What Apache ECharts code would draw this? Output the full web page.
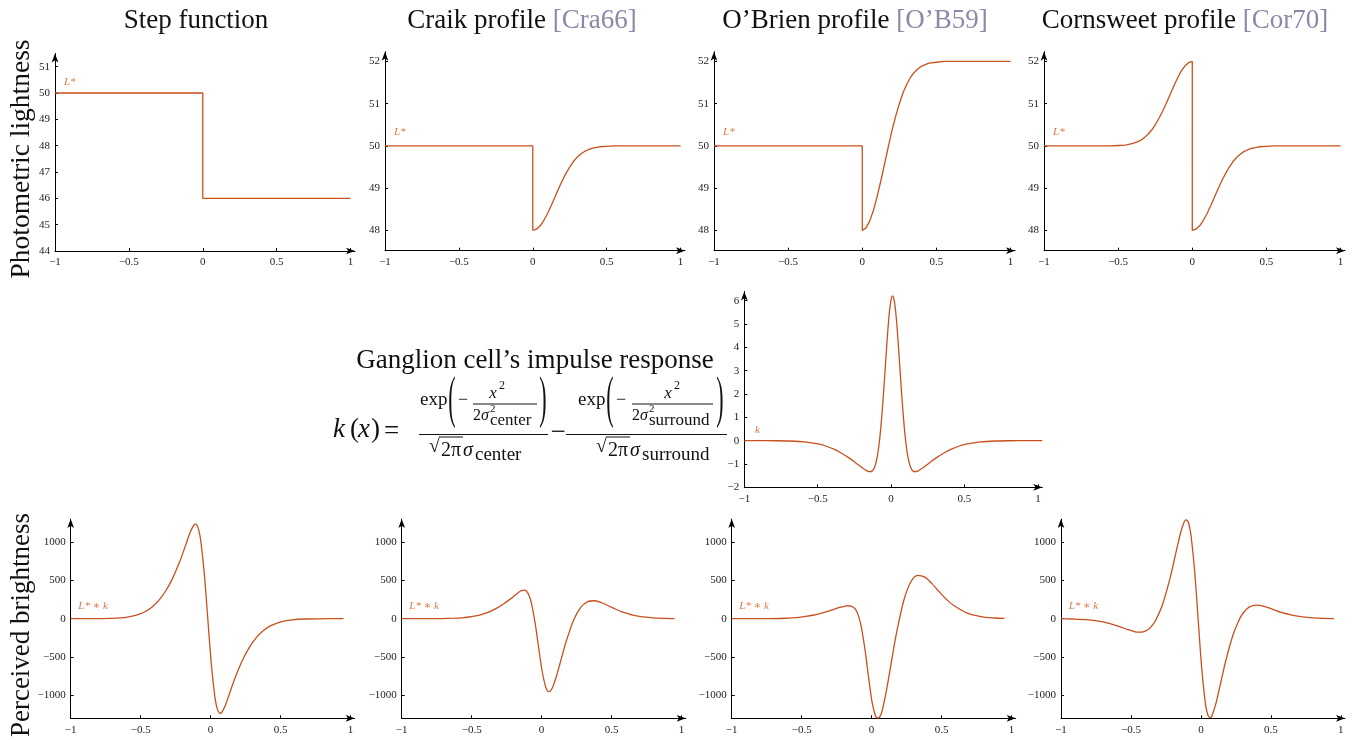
<!DOCTYPE html>
<html><head><meta charset="utf-8">
<script src="https://cdn.jsdelivr.net/npm/echarts@6/dist/echarts.min.js"></script>
<style>html,body{margin:0;padding:0;background:#fff}#c{width:1354px;height:740px}</style>
</head><body><div id="c"></div>
<script>
// ---------------- data ----------------
const xTicks = [-1, -0.5, 0, 0.5, 1];
const yTicksStep = [44, 45, 46, 47, 48, 49, 50, 51];
const yTicksProfile = [48, 49, 50, 51, 52];
const yTicksKernel = [-2, -1, 0, 1, 2, 3, 4, 5, 6];
const yTicksResponse = [-1000, -500, 0, 500, 1000];

const titles = ['Step function', 'Craik profile', 'O’Brien profile', 'Cornsweet profile'];
const citations = ['', '[Cra66]', '[O’B59]', '[Cor70]'];
const rowTitles = ['Photometric lightness', 'Perceived brightness'];

const stepX = [-1, 0, 0, 1];
const stepY = [50, 50, 46, 46];

const profileX = [-1, 0, 0, 0.025, 0.05, 0.075, 0.1, 0.125, 0.15, 0.175, 0.2, 0.225, 0.25, 0.275, 0.3, 0.325, 0.35, 0.375, 0.4, 0.45, 0.5, 0.55, 0.6, 1];
const craikY = [50, 50, 48, 48.03, 48.11, 48.24, 48.40, 48.59, 48.79, 48.99, 49.18, 49.35, 49.50, 49.63, 49.73, 49.81, 49.87, 49.91, 49.94, 49.98, 49.99, 50, 50, 50];
const obrienY = [50, 50, 48, 48.06, 48.22, 48.47, 48.80, 49.17, 49.57, 49.97, 50.36, 50.70, 51.00, 51.26, 51.46, 51.62, 51.74, 51.82, 51.89, 51.96, 51.98, 52, 52, 52];

const cornsweetX = [-1, -0.6, -0.55, -0.5, -0.45, -0.4, -0.375, -0.35, -0.325, -0.3, -0.275, -0.25, -0.225, -0.2, -0.175, -0.15, -0.125, -0.1, -0.075, -0.05, -0.025, 0,
  0, 0.025, 0.05, 0.075, 0.1, 0.125, 0.15, 0.175, 0.2, 0.225, 0.25, 0.275, 0.3, 0.325, 0.35, 0.375, 0.4, 0.45, 0.5, 0.55, 0.6, 1];
const cornsweetY = [50, 50, 50, 50.01, 50.02, 50.06, 50.09, 50.13, 50.19, 50.27, 50.37, 50.50, 50.65, 50.82, 51.01, 51.21, 51.41, 51.60, 51.77, 51.89, 51.97, 52,
  48, 48.03, 48.11, 48.24, 48.40, 48.59, 48.79, 48.99, 49.18, 49.35, 49.50, 49.63, 49.73, 49.81, 49.87, 49.91, 49.94, 49.98, 49.99, 50, 50, 50];

const kernelX = [-1, -0.89, -0.79, -0.69, -0.59, -0.49, -0.44, -0.39, -0.34, -0.29, -0.24, -0.19, -0.165, -0.14, -0.1275, -0.115, -0.1025, -0.09, -0.0775, -0.065, -0.0525, -0.04, -0.0275, -0.015, -0.0025,
  0.01, 0.0225, 0.035, 0.0475, 0.06, 0.0725, 0.085, 0.0975, 0.11, 0.1225, 0.135, 0.1475, 0.16, 0.185, 0.21, 0.26, 0.31, 0.36, 0.41, 0.46, 0.51, 0.61, 0.71, 0.81, 0.91, 1.03];
const kernelY = [0, -0.001, -0.003, -0.014, -0.051, -0.150, -0.240, -0.365, -0.529, -0.729, -0.956, -1.192, -1.293, -1.331, -1.289, -1.169, -0.930, -0.526, 0.082, 0.914, 1.947, 3.109, 4.274, 5.279, 5.963,
  6.206, 5.963, 5.279, 4.274, 3.109, 1.947, 0.914, 0.082, -0.526, -0.930, -1.169, -1.289, -1.331, -1.293, -1.192, -0.956, -0.729, -0.529, -0.365, -0.240, -0.150, -0.051, -0.014, -0.003, -0.001, 0];

const responseX = [-1, -0.92, -0.82, -0.72, -0.62, -0.57, -0.52, -0.47, -0.42, -0.37, -0.32, -0.27, -0.22, -0.195, -0.17, -0.145, -0.12, -0.1075, -0.095, -0.0825, -0.07, -0.045,
  -0.02, 0.005, 0.03, 0.0425, 0.055, 0.0675, 0.08, 0.105, 0.13, 0.155, 0.18, 0.23, 0.28, 0.33, 0.38, 0.43, 0.48, 0.53, 0.58, 0.68, 0.78, 0.88, 0.95];
const stepResp = [0, 0, 1, 4, 15, 29, 53, 91, 151, 240, 365, 533, 748, 872, 1005, 1132, 1222, 1234, 1211, 1140, 1014, 589,
  0, -589, -1014, -1140, -1211, -1234, -1222, -1132, -1005, -872, -748, -533, -365, -240, -151, -91, -53, -29, -15, -4, -1, 0, 0];
const craikResp = [0, 0, 0, 2, 7, 12, 22, 37, 60, 93, 138, 195, 262, 299, 336, 366, 372, 358, 324, 267, 182, -70,
  -394, -699, -897, -942, -952, -933, -890, -757, -594, -428, -271, -14, 148, 223, 234, 208, 166, 123, 87, 37, 14, 4, 2];
const obrienResp = [0, 0, 0, 1, 6, 10, 17, 29, 45, 67, 93, 123, 151, 162, 169, 165, 133, 98, 43, -36, -142, -434,
  -788, -1104, -1280, -1295, -1290, -1248, -1168, -947, -687, -419, -168, 238, 479, 566, 543, 461, 358, 261, 181, 76, 28, 9, 4];
const cornsweetRespX = [-1, -0.92, -0.82, -0.72, -0.62, -0.57, -0.52, -0.47, -0.445, -0.42, -0.395, -0.37, -0.345, -0.32, -0.27, -0.22, -0.195, -0.17, -0.145, -0.12, -0.1075, -0.095, -0.0825, -0.07, -0.045,
  -0.02, 0.005, 0.03, 0.0425, 0.055, 0.0675, 0.08, 0.105, 0.13, 0.155, 0.18, 0.23, 0.28, 0.305, 0.33, 0.355, 0.38, 0.405, 0.43, 0.48, 0.53, 0.58, 0.68, 0.78, 0.88, 0.95];
const cornsweetResp = [0, -4, -13, -36, -80, -111, -144, -171, -176, -174, -160, -130, -81, -10, 209, 533, 727, 930, 1122, 1262, 1290, 1277, 1209, 1079, 629,
  0, -629, -1079, -1209, -1277, -1290, -1262, -1122, -930, -727, -533, -209, 10, 81, 130, 160, 174, 176, 171, 144, 111, 80, 36, 13, 4, 2];

// ---------------- styling / layout ----------------
const SERIF = '"Liberation Serif", "DejaVu Serif", serif';
const LINE = '#c8501d';
const LABEL = '#e07a45';
const INK = '#111';
const CITE = '#8b89a9';

const pair = (xs, ys) => xs.map((x, i) => [x, ys[i]]);
const fmt = v => String(v).replace('-', '\u2212');

const panels = [
  { left: 55,    top: 53.5,  width: 300, height: 197.5, ymin: 44,     ymax: 51.5,  ticks: yTicksStep,     data: pair(stepX, stepY),           lab: 'L*',     at: [-0.9, 50.4],  smooth: false },
  { left: 385,   top: 51.7,  width: 300, height: 199,   ymin: 47.52,  ymax: 52.23, ticks: yTicksProfile,  data: pair(profileX, craikY),       lab: 'L*',     at: [-0.9, 50.33], smooth: false },
  { left: 714,   top: 51.7,  width: 301, height: 199,   ymin: 47.52,  ymax: 52.23, ticks: yTicksProfile,  data: pair(profileX, obrienY),      lab: 'L*',     at: [-0.9, 50.33], smooth: false },
  { left: 1044,  top: 51.7,  width: 301, height: 199,   ymin: 47.52,  ymax: 52.23, ticks: yTicksProfile,  data: pair(cornsweetX, cornsweetY), lab: 'L*',     at: [-0.9, 50.33], smooth: false },
  { left: 744.3, top: 291.4, width: 298, height: 195.9, ymin: -2,     ymax: 6.4,   ticks: yTicksKernel,   data: pair(kernelX, kernelY),       lab: 'k',      at: [-0.91, 0.46], smooth: true },
  { left: 70.7,  top: 519.1, width: 284, height: 199.2, ymin: -1300,  ymax: 1300,  ticks: yTicksResponse, data: pair(responseX, stepResp),      lab: 'L* \u2217 k', at: [-0.84, 159], smooth: true },
  { left: 401.7, top: 519.1, width: 284, height: 199.2, ymin: -1300,  ymax: 1300,  ticks: yTicksResponse, data: pair(responseX, craikResp),     lab: 'L* \u2217 k', at: [-0.84, 159], smooth: true },
  { left: 731.7, top: 519.1, width: 284, height: 199.2, ymin: -1300,  ymax: 1300,  ticks: yTicksResponse, data: pair(responseX, obrienResp),    lab: 'L* \u2217 k', at: [-0.84, 159], smooth: true },
  { left: 1061,  top: 519.1, width: 284, height: 199.2, ymin: -1300,  ymax: 1300,  ticks: yTicksResponse, data: pair(cornsweetRespX, cornsweetResp), lab: 'L* \u2217 k', at: [-0.84, 159], smooth: true }
];

function axisBase(ticks, margin) {
  return {
    axisLine: { onZero: false, lineStyle: { color: '#000', width: 1 }, symbol: ['none', 'arrow'], symbolSize: [5, 9], symbolOffset: [0, 0] },
    axisTick: { show: true, inside: true, length: 3, customValues: ticks, lineStyle: { color: '#000', width: 1 } },
    axisLabel: { customValues: ticks, formatter: fmt, fontFamily: SERIF, fontSize: 11, color: '#222', margin: margin },
    splitLine: { show: false }
  };
}

const grid = panels.map(p => ({ left: p.left, top: p.top, width: p.width, height: p.height, containLabel: false }));
const xAxis = panels.map((p, i) => Object.assign({ type: 'value', gridIndex: i, min: -1, max: 1.03 }, axisBase(xTicks, 6)));
const yAxis = panels.map((p, i) => Object.assign({ type: 'value', gridIndex: i, min: p.ymin, max: p.ymax }, axisBase(p.ticks, 5)));

const series = panels.map((p, i) => ({
  type: 'line', xAxisIndex: i, yAxisIndex: i, data: p.data,
  showSymbol: false, symbol: 'none', silent: true,
  smooth: p.smooth ? 0.3 : false,
  lineStyle: { color: LINE, width: 1.3 }, itemStyle: { color: LINE },
  markPoint: {
    symbol: 'circle', symbolSize: 1, silent: true, itemStyle: { color: 'rgba(0,0,0,0)' },
    label: { show: true, position: 'inside', formatter: p.lab, color: LABEL, fontFamily: SERIF, fontStyle: 'italic', fontSize: 11 },
    data: [{ coord: p.at }]
  }
}));

// ---------------- free text ----------------
const G = [];
function txt(text, x, y, size, o) {
  o = o || {};
  const el = {
    type: 'text', x: x, y: y, silent: true,
    style: {
      text: text, font: (o.italic ? 'italic ' : '') + size + 'px ' + SERIF, fill: o.fill || INK,
      align: o.align || 'left', verticalAlign: 'middle', textAlign: o.align || 'left', textVerticalAlign: 'middle'
    }
  };
  if (o.rich) el.style.rich = o.rich;
  if (o.rotation) el.rotation = o.rotation;
  if (o.sx) { el.scaleX = o.sx; el.scaleY = o.sy; }
  G.push(el);
}
function hline(x1, x2, y) {
  G.push({ type: 'line', silent: true, shape: { x1: x1, y1: y, x2: x2, y2: y }, style: { stroke: INK, lineWidth: 1 } });
}

const titleCenters = [196, 522, 855, 1185];
titles.forEach((t, i) => {
  if (citations[i]) {
    txt('{a|' + t + ' }{b|' + citations[i] + '}', titleCenters[i], 21, 27, {
      align: 'center',
      rich: { a: { fontFamily: SERIF, fontSize: 27, fill: INK, color: INK }, b: { fontFamily: SERIF, fontSize: 27, fill: CITE, color: CITE } }
    });
  } else {
    txt(t, titleCenters[i], 21, 27, { align: 'center' });
  }
});
txt(rowTitles[0], 22, 159, 27.5, { align: 'center', rotation: Math.PI / 2 });
txt(rowTitles[1], 22, 625, 27, { align: 'center', rotation: Math.PI / 2 });

// formula
txt('Ganglion cell’s impulse response', 535, 361, 27, { align: 'center' });
txt('k', 333, 430, 27, { italic: true });
txt('(', 350, 430, 27);
txt('x', 358, 430, 27, { italic: true });
txt(')', 371, 430, 27);
txt('=', 384, 432, 27);
// fraction 1
hline(419, 548, 434.5);
txt('exp', 420, 400, 19);
txt('(', 452, 401, 40, { align: 'center', sx: 0.55, sy: 1.45 });
txt('\u2212', 458, 400, 18);
txt('x', 493, 394, 17, { italic: true, align: 'center' });
txt('2', 499, 386, 12);
hline(473, 537, 404);
txt('2', 473, 416, 16);
txt('\u03c3', 481, 416, 16, { italic: true });
txt('2', 490, 409, 11);
txt('center', 490, 421, 17);
txt(')', 543, 401, 40, { align: 'center', sx: 0.55, sy: 1.45 });
txt('\u221a', 429, 447, 20);
hline(440, 463, 437);
txt('2\u03c0', 441, 451, 20);
txt('\u03c3', 463, 451, 20, { italic: true });
txt('center', 475, 455, 19);
txt('\u2212', 558, 433, 27, { align: 'center' });
// fraction 2
hline(566, 727, 434.5);
txt('exp', 578, 400, 19);
txt('(', 610, 401, 40, { align: 'center', sx: 0.55, sy: 1.45 });
txt('\u2212', 616, 400, 18);
txt('x', 668, 394, 17, { italic: true, align: 'center' });
txt('2', 674, 386, 12);
hline(632, 713, 404);
txt('2', 632, 416, 16);
txt('\u03c3', 640, 416, 16, { italic: true });
txt('2', 649, 409, 11);
txt('surround', 649, 421, 17);
txt(')', 720, 401, 40, { align: 'center', sx: 0.55, sy: 1.45 });
txt('\u221a', 596, 447, 20);
hline(607, 630, 437);
txt('2\u03c0', 608, 451, 20);
txt('\u03c3', 630, 451, 20, { italic: true });
txt('surround', 642, 455, 19);

const chart = echarts.init(document.getElementById('c'), null, { renderer: 'canvas' });
chart.setOption({
  animation: false,
  backgroundColor: '#fff',
  grid: grid, xAxis: xAxis, yAxis: yAxis, series: series,
  graphic: { elements: G }
});
</script></body></html>
